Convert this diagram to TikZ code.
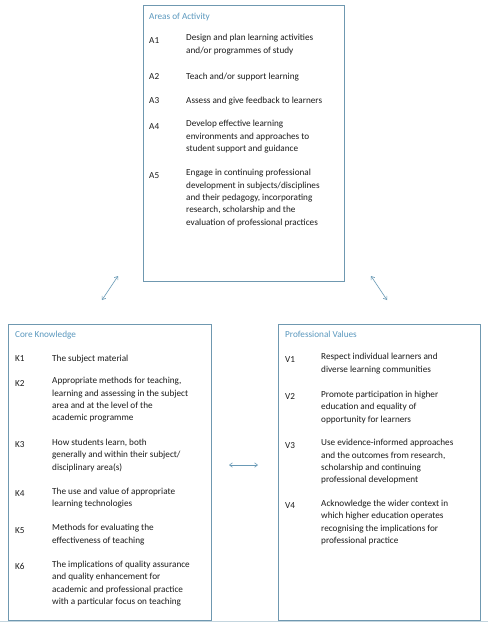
\documentclass[tikz,border=0pt]{standalone}
\usepackage{fontspec}
\setmainfont{Carlito}
\usetikzlibrary{arrows.meta}
\definecolor{boxline}{HTML}{6F98B0}
\definecolor{titlecol}{HTML}{5A98BE}
\definecolor{txt}{HTML}{1C1C1C}
\definecolor{arrowcol}{HTML}{6A9AB6}
\newcommand\itemfont{\fontsize{9.2}{12.3}\selectfont}
\tikzset{
  panel/.style={draw=boxline, line width=0.8pt, anchor=north west, inner sep=0, fill=white},
  paneltitle/.style={anchor=base west, inner sep=0, font=\itemfont, text=titlecol},
  lab/.style={anchor=base west, inner sep=0, font=\itemfont, text=txt},
  body/.style={anchor=north west, inner sep=0, align=left, font=\itemfont, text=txt,
    execute at begin node=\strut},
  link/.style={draw=arrowcol, line width=0.6pt, {Straight Barb[length=3pt,width=4.5pt]}-{Straight Barb[length=3pt,width=4.5pt]}}
}
\newcommand\entry[6]{%
  \node[lab] (#1) at (#2,#4) {#5};
  \node[body] (#1t) at (#3,#4-8.61) {#6};}
\begin{document}
\begin{tikzpicture}[x=1pt,y=-1pt]
\useasboundingbox (0,0) rectangle (488,622);
\fill[white] (0,0) rectangle (488,622);
\draw[draw=boxline!40, line width=0.8pt] (0,621.5) -- (488,621.5);

% Areas of Activity
\node[panel, minimum width=201pt, minimum height=276pt] (act) at (143,5) {};
\node[paneltitle] (acttitle) at (149,19) {Areas of Activity};
\entry{a1}{149}{186}{43}{A1}{Design and plan learning activities\\and/or programmes of study}
\entry{a2}{149}{186}{79.5}{A2}{Teach and/or support learning}
\entry{a3}{149}{186}{103.5}{A3}{Assess and give feedback to learners}
\entry{a4}{149}{186}{129}{A4}{Develop effective learning\\environments and approaches to\\student support and guidance}
\entry{a5}{149}{186}{178}{A5}{Engage in continuing professional\\development in subjects/disciplines\\and their pedagogy, incorporating\\research, scholarship and the\\evaluation of professional practices}

% Core Knowledge
\node[panel, minimum width=203pt, minimum height=296pt] (core) at (8,324) {};
\node[paneltitle] (coretitle) at (15,337.5) {Core Knowledge};
\entry{k1}{15}{52}{361.5}{K1}{The subject material}
\entry{k2}{15}{52}{386}{K2}{Appropriate methods for teaching,\\learning and assessing in the subject\\area and at the level of the\\academic programme}
\entry{k3}{15}{52}{447.5}{K3}{How students learn, both\\generally and within their subject/\\disciplinary area(s)}
\entry{k4}{15}{52}{496.3}{K4}{The use and value of appropriate\\learning technologies}
\entry{k5}{15}{52}{533}{K5}{Methods for evaluating the\\effectiveness of teaching}
\entry{k6}{15}{52}{569.7}{K6}{The implications of quality assurance\\and quality enhancement for\\academic and professional practice\\with a particular focus on teaching}

% Professional Values
\node[panel, minimum width=202pt, minimum height=296pt] (vals) at (278,324) {};
\node[paneltitle] (valstitle) at (285,337.5) {Professional Values};
\entry{v1}{285}{321}{362}{V1}{Respect individual learners and\\diverse learning communities}
\entry{v2}{285}{321}{399.7}{V2}{Promote participation in higher\\education and equality of\\opportunity for learners}
\entry{v3}{285}{321}{448}{V3}{Use evidence-informed approaches\\and the outcomes from research,\\scholarship and continuing\\professional development}
\entry{v4}{285}{321}{508.7}{V4}{Acknowledge the wider context in\\which higher education operates\\recognising the implications for\\professional practice}

% links
\coordinate (l1a) at (118,276);
\coordinate (l1b) at (102,300);
\coordinate (l2a) at (371,276);
\coordinate (l2b) at (387,300);
\coordinate (l3a) at (229,465);
\coordinate (l3b) at (258,465);
\draw[link] (l1a) -- (l1b);
\draw[link] (l2a) -- (l2b);
\draw[link] (l3a) -- (l3b);
\end{tikzpicture}
\end{document}
